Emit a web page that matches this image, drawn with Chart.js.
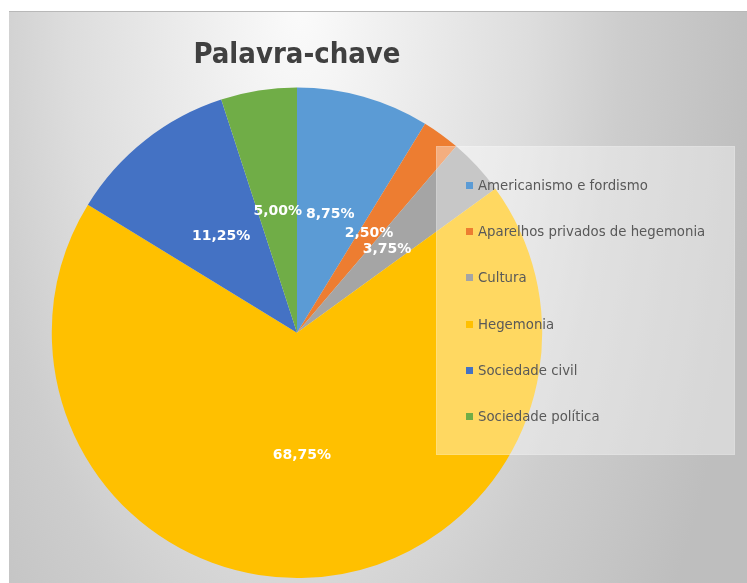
<!DOCTYPE html>
<html>
<head>
<meta charset="utf-8">
<script src="https://cdn.jsdelivr.net/npm/chart.js@4.4.0/dist/chart.umd.min.js"></script>
<style>
  html, body { margin: 0; padding: 0; background: #fff; }
  #box { position: absolute; left: 9px; top: 11px; width: 738px; height: 572px; border-top: 1px solid #b8b8b8; box-sizing: border-box; }
  #chart { position: absolute; left: 0; top: 0; }
  #legend { position: absolute; left: 427px; top: 134px; width: 299px; height: 309px;
            background: rgba(255,255,255,0.38); box-shadow: inset 0 0 0 1px rgba(255,255,255,0.15);
            font-family: "DejaVu Sans", sans-serif; font-size: 13.3px; color: #595959; box-sizing: border-box; padding-top: 16px; }
  .item { height: 46.3px; display: flex; align-items: center; padding-left: 30px; }
  .mark { width: 7px; height: 7px; margin-right: 5px; flex: none; }
</style>
</head>
<body>
<div id="box">
  <canvas id="chart" width="738" height="572"></canvas>
  <div id="legend"></div>
</div>
<script>
// Palavra-chave pie
const categories = ['Americanismo e fordismo', 'Aparelhos privados de hegemonia', 'Cultura', 'Hegemonia', 'Sociedade civil', 'Sociedade política'];
const counts = [7, 2, 3, 55, 9, 4];
const sliceColors = ['#5B9BD5', '#ED7D31', '#A5A5A5', '#FFC000', '#4472C4', '#70AD47'];
const chartTitle = 'Palavra-chave';

const background = {
  id: 'background',
  beforeDraw(chart) {
    const ctx = chart.ctx;
    ctx.save();
    ctx.translate(291, -11);
    ctx.scale(1, 2.2);
    const g = ctx.createRadialGradient(0, 0, 0, 0, 0, 460);
    g.addColorStop(0, '#fbfbfb');
    g.addColorStop(0.5, '#dddddd');
    g.addColorStop(0.7, '#cdcdcd');
    g.addColorStop(1, '#bebebe');
    ctx.fillStyle = g;
    ctx.fillRect(-400, 0, 1200, 400);
    ctx.restore();
  }
};

const sliceLabels = {
  id: 'sliceLabels',
  afterDatasetsDraw(chart) {
    const ctx = chart.ctx;
    const data = chart.data.datasets[0].data;
    const total = data.reduce((a, b) => a + b, 0);
    ctx.save();
    ctx.font = 'bold 14px "DejaVu Sans", sans-serif';
    ctx.fillStyle = '#ffffff';
    ctx.textAlign = 'center';
    ctx.textBaseline = 'middle';
    chart.getDatasetMeta(0).data.forEach((arc, i) => {
      const p = arc.tooltipPosition();
      const txt = (data[i] / total * 100).toFixed(2).replace('.', ',') + '%';
      ctx.fillText(txt, p.x, p.y);
    });
    ctx.restore();
  }
};

const chart = new Chart(document.getElementById('chart'), {
  type: 'pie',
  data: {
    labels: categories,
    datasets: [{
      data: counts,
      backgroundColor: sliceColors,
      borderWidth: 0
    }]
  },
  options: {
    responsive: false,
    animation: false,
    layout: { padding: { left: 0, right: 162, top: 0, bottom: 6 } },
    plugins: {
      legend: { display: false },
      tooltip: { enabled: false },
      title: {
        display: true,
        text: chartTitle,
        color: '#404040',
        font: { family: '"DejaVu Sans Condensed", "DejaVu Sans", sans-serif', size: 29, weight: 'bold', lineHeight: 1.2 },
        padding: { top: 26, bottom: 14.8 }
      }
    }
  },
  plugins: [background, sliceLabels]
});

const legend = document.getElementById('legend');
categories.forEach((c, i) => {
  const item = document.createElement('div');
  item.className = 'item';
  const m = document.createElement('span');
  m.className = 'mark';
  m.style.background = sliceColors[i];
  const t = document.createElement('span');
  t.textContent = c;
  item.appendChild(m);
  item.appendChild(t);
  legend.appendChild(item);
});
</script>
</body>
</html>
